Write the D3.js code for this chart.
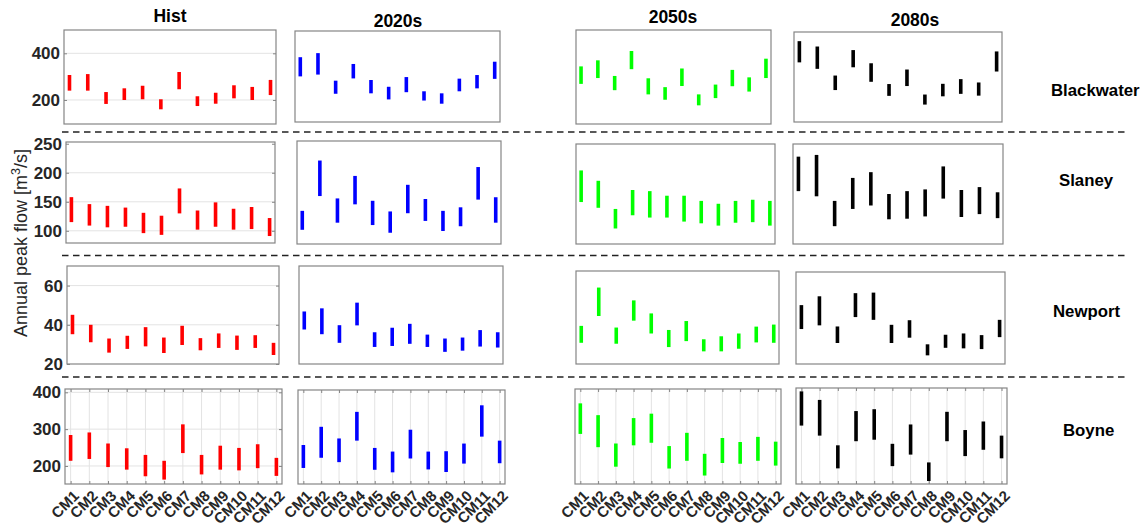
<!DOCTYPE html>
<html><head><meta charset="utf-8">
<script src="https://cdn.jsdelivr.net/npm/d3@7"></script>
<style>body{margin:0;background:#fff}svg{display:block}</style>
</head><body>
<svg id="chart" width="1145" height="529"></svg>
<script>
// ---------------- data ----------------
const periods = ["Hist", "2020s", "2050s", "2080s"];
const rivers = ["Blackwater", "Slaney", "Newport", "Boyne"];
const models = ["CM1","CM2","CM3","CM4","CM5","CM6","CM7","CM8","CM9","CM10","CM11","CM12"];
const yDomains = [[97, 500], [79, 253], [20, 70], [151, 409]];
const yTickValues = [[200, 400], [100, 150, 200, 250], [20, 40, 60], [200, 300, 400]];

// [low, high] annual peak flow range per climate model
const blackwaterHist  = [[240,307],[240,311],[183,234],[200,250],[203,261],[160,203],[246,320],[174,216],[184,231],[207,263],[200,256],[221,286]];
const blackwater2020s = [[299,384],[307,402],[222,280],[290,354],[224,283],[197,253],[229,296],[192,233],[178,224],[233,289],[246,305],[288,364]];
const blackwater2050s = [[269,344],[294,370],[242,303],[332,410],[224,293],[201,255],[260,335],[177,224],[208,266],[259,329],[236,297],[294,377]];
const blackwater2080s = [[364,459],[335,435],[240,305],[342,419],[277,360],[214,267],[258,332],[175,220],[212,268],[223,289],[215,274],[323,413]];

const slaneyHist  = [[115,158],[109,146],[106,143],[107,140],[96,131],[93,126],[130,173],[102,135],[107,149],[102,138],[103,141],[91,122]];
const slaney2020s = [[103,135],[160,220],[115,156],[146,194],[111,152],[98,134],[131,179],[118,155],[101,135],[109,141],[154,209],[115,158]];
const slaney2050s = [[152,207],[142,189],[106,140],[129,173],[125,171],[125,163],[118,163],[115,154],[111,149],[116,154],[117,156],[111,154]];
const slaney2080s = [[171,231],[162,234],[110,154],[140,194],[146,204],[122,166],[123,171],[127,174],[158,214],[126,173],[131,178],[124,169]];

const newportHist  = [[35.2,45.1],[31.1,40],[25.8,33],[27.7,34.4],[29,38.8],[25.6,33.5],[29.7,39.5],[27,33.2],[28.2,35.6],[27.2,34.5],[28.2,34.7],[24.6,30.8]];
const newport2020s = [[37.6,46.8],[35.2,48.4],[30.8,39.8],[39.7,51.3],[28.7,36.2],[29.2,38.5],[30.3,40.5],[28.7,35],[26.2,33],[26.8,33.5],[28.9,37.3],[28.4,36.2]];
const newport2050s = [[31.4,40.5],[45.8,61.1],[30.9,39.6],[43.3,54.2],[36.4,47.2],[29.1,38.3],[32.3,43.1],[26.8,33.3],[26.8,34.9],[28.2,36.4],[31.6,40.1],[31.4,41.2]];
const newport2080s = [[39,52],[41,56.8],[31.4,40.4],[45.5,58.5],[44,58.8],[31.4,41.3],[34.3,43.8],[24.7,30.7],[28.8,35.9],[28.5,36.6],[28.1,35.7],[34.6,44]];

const boyneHist  = [[214,284],[219,291],[197,261],[190,248],[172,230],[163,214],[235,313],[177,230],[190,255],[188,249],[194,259],[173,222]];
const boyne2020s = [[195,258],[223,308],[211,276],[270,349],[190,250],[183,240],[221,300],[191,240],[184,241],[207,262],[281,367],[208,270]];
const boyne2050s = [[287,370],[251,338],[198,261],[256,330],[263,342],[193,254],[214,290],[174,233],[208,276],[206,265],[214,279],[201,266]];
const boyne2080s = [[308,400],[281,377],[193,255],[266,347],[270,352],[199,259],[230,311],[159,209],[266,345],[226,296],[243,319],[220,281]];

const dataGrid = [
  [blackwaterHist, blackwater2020s, blackwater2050s, blackwater2080s],
  [slaneyHist, slaney2020s, slaney2050s, slaney2080s],
  [newportHist, newport2020s, newport2050s, newport2080s],
  [boyneHist, boyne2020s, boyne2050s, boyne2080s]
];

// ---------------- layout / style ----------------
const periodColors = ["#ff0000", "#0000ff", "#00ff00", "#000000"];
// panel boxes [x0, x1, y0, y1] per row, per column
const boxes = [
  [[64,276,30,124],[295,500,31,122],[576,771,30,124],[794,1002,32,122]],
  [[66,275,142,243],[297,501,141,244],[576,775,144,244],[793,1003,144,244]],
  [[67,279,266,364],[299,503,266,364],[576,779,271,364],[796,1005,272,364]],
  [[65,282,389,484],[298,505,390,484],[575,781,389,484],[796,1007,388,484]]
];
const titlePos = [[170,22],[398,27],[673,23],[915,26]];
const riverLabelPos = [[1051,90],[1059,180],[1053,311],[1063,430]];
const separatorsY = [132, 255.5, 377];

const svg = d3.select("#chart");
const font = "'Liberation Sans', Arial, Helvetica, sans-serif";

// separators
svg.selectAll("line.sep").data(separatorsY).enter().append("line")
  .attr("class","sep")
  .attr("x1", 62).attr("x2", 1127)
  .attr("y1", d => d).attr("y2", d => d)
  .attr("stroke", "#222").attr("stroke-width", 1.3)
  .attr("stroke-dasharray", "6.5,4.5");

// column titles
svg.selectAll("text.ptitle").data(periods).enter().append("text")
  .attr("class","ptitle")
  .attr("x", (d,i) => titlePos[i][0]).attr("y", (d,i) => titlePos[i][1])
  .attr("text-anchor","middle")
  .attr("font-family", font).attr("font-weight","bold").attr("font-size", 17.5)
  .attr("fill","#000").text(d => d);

// river labels
svg.selectAll("text.rlabel").data(rivers).enter().append("text")
  .attr("class","rlabel")
  .attr("x", (d,i) => riverLabelPos[i][0]).attr("y", (d,i) => riverLabelPos[i][1])
  .attr("dy","0.35em")
  .attr("font-family", font).attr("font-weight","bold").attr("font-size", 16.8)
  .attr("fill","#000").text(d => d);

// y axis title
const yt = svg.append("text")
  .attr("transform","translate(27,243) rotate(-90)")
  .attr("text-anchor","middle")
  .attr("font-family", font).attr("font-size", 18).attr("fill","#262626");
yt.append("tspan").text("Annual peak flow [m");
yt.append("tspan").attr("font-size", 12.5).attr("dy", -7.5).text("3");
yt.append("tspan").attr("dy", 7.5).text("/s]");

rivers.forEach((river, r) => {
  periods.forEach((period, c) => {
    const [x0, x1, y0, y1] = boxes[r][c];
    const x = d3.scalePoint().domain(models).range([x0, x1]).padding(0.3);
    const y = d3.scaleLinear().domain(yDomains[r]).range([y1, y0]);
    const g = svg.append("g");

    // gridlines
    if (c === 0) {
      g.selectAll("line.hg").data(yTickValues[r].filter(v => y(v) > y0 + 2 && y(v) < y1 - 2)).enter().append("line")
        .attr("x1", x0).attr("x2", x1).attr("y1", d => y(d)).attr("y2", d => y(d))
        .attr("stroke", "#e3e3e3").attr("stroke-width", 1);
    }
    if (r === 3) {
      g.selectAll("line.vg").data(models).enter().append("line")
        .attr("x1", d => x(d)).attr("x2", d => x(d)).attr("y1", y0).attr("y2", y1)
        .attr("stroke", "#e3e3e3").attr("stroke-width", 1);
    }

    // bars
    g.selectAll("line.bar").data(dataGrid[r][c]).enter().append("line")
      .attr("x1", (d,i) => x(models[i])).attr("x2", (d,i) => x(models[i]))
      .attr("y1", d => y(d[0])).attr("y2", d => y(d[1]))
      .attr("stroke", periodColors[c]).attr("stroke-width", 3.6);

    // frame
    g.append("rect").attr("x", x0).attr("y", y0).attr("width", x1 - x0).attr("height", y1 - y0)
      .attr("fill","none").attr("stroke","#858585").attr("stroke-width", 1.2);

    // y axis on first column
    if (c === 0) {
      const ax = d3.axisLeft(y).tickValues(yTickValues[r]).tickSize(-3).tickPadding(4).tickFormat(d3.format("d"));
      const axg = g.append("g").attr("transform", `translate(${x0},0)`).call(ax);
      axg.select(".domain").remove();
      axg.selectAll(".tick line").attr("stroke","#858585");
      axg.selectAll(".tick text").attr("font-family", font).attr("font-weight","bold")
        .attr("font-size", 17).attr("fill","#262626");
      const axr = d3.axisRight(y).tickValues(yTickValues[r]).tickSize(-3).tickFormat("");
      const arg = g.append("g").attr("transform", `translate(${x1},0)`).call(axr);
      arg.select(".domain").remove();
      arg.selectAll(".tick line").attr("stroke","#858585");
    }

    // x axis on bottom row
    if (r === 3) {
      const axb = d3.axisBottom(x).tickSize(-3).tickPadding(0);
      const bg = g.append("g").attr("transform", `translate(0,${y1})`).call(axb);
      bg.select(".domain").remove();
      bg.selectAll(".tick line").attr("stroke","#858585");
      bg.selectAll(".tick text")
        .attr("font-family", font).attr("font-weight","bold").attr("font-size", 15)
        .attr("fill","#262626")
        .attr("text-anchor","end")
        .attr("dy", null)
        .attr("transform","translate(6,10) rotate(-45)")
        .attr("dominant-baseline","middle");
      const axt = d3.axisTop(x).tickSize(-3).tickFormat("");
      const tg = g.append("g").attr("transform", `translate(0,${y0})`).call(axt);
      tg.select(".domain").remove();
      tg.selectAll(".tick line").attr("stroke","#858585");
    }
  });
});
</script>
</body></html>
